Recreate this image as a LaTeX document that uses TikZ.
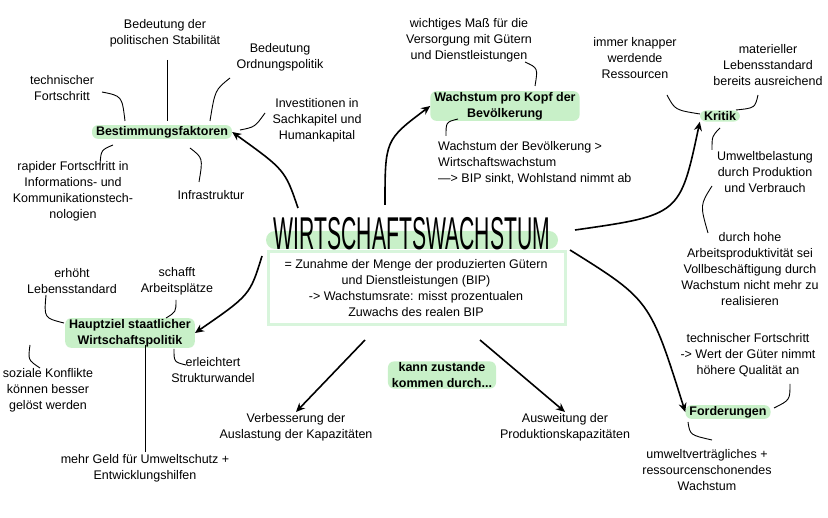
\documentclass[tikz,border=0pt]{standalone}
\usepackage{fontspec}
\setmainfont{Liberation Sans}
\usetikzlibrary{arrows.meta}
\definecolor{hl}{HTML}{C8F0C8}
\definecolor{boxc}{HTML}{D8F5DC}
\tikzset{
 txt/.style={align=center,font=\fontsize{12.5}{16}\selectfont,inner sep=1pt},
 key/.style={txt,font=\fontsize{12.5}{16}\selectfont\bfseries,fill=hl,rounded corners=6pt,inner xsep=4pt},
 ln/.style={line width=0.9pt,black},
 arr/.style={line width=1.6pt,-{Stealth[length=9pt,width=8pt]}},
}
\begin{document}
\begin{tikzpicture}[x=1pt,y=-1pt]
\useasboundingbox (0,0) rectangle (828,518);
% centre
\node[fill=hl,rounded corners=9pt,minimum width=292,minimum height=18] (hbar) at (412,240) {};
\node (title) at (412,234) {\scalebox{0.46}[1]{\fontsize{46}{46}\selectfont WIRTSCHAFTSWACHSTUM}};
\draw[boxc,line width=3pt] (268,252) rectangle (565,325);
\node[txt] (def) at (416,288) {= Zunahme der Menge der produzierten Gütern\\und Dienstleistungen (BIP)\\-> Wachstumsrate: misst prozentualen\\Zuwachs des realen BIP};
% Bestimmungsfaktoren
\node[key] (best) at (162,132) {Bestimmungsfaktoren};
\node[txt] (pol) at (165,33) {Bedeutung der\\politischen Stabilität};
\node[txt] (ord) at (280,57) {Bedeutung\\Ordnungspolitik};
\node[txt] (tech) at (62,88) {technischer\\Fortschritt};
\node[txt] (inv) at (317,120) {Investitionen in\\Sachkapitel und\\Humankapital};
\node[txt] (rap) at (73,191) {rapider Fortschritt in\\Informations- und\\Kommunikationstech-\\nologien};
\node[txt] (inf) at (211,195) {Infrastruktur};
\coordinate (p1) at (167,60); \coordinate (p2) at (167,121);
\draw[ln] (p1) -- (p2);
\coordinate (o1) at (230,78); \coordinate (o2) at (210,121);
\draw[ln] (o1) .. controls (215,90) .. (o2);
\coordinate (t1) at (102,92); \coordinate (t2) at (125,121);
\draw[ln] (t1) .. controls (122,96) .. (t2);
\coordinate (i1) at (265,113); \coordinate (i2) at (240,130);
\draw[ln] (i1) .. controls (255,127) .. (i2);
\coordinate (r1) at (113,145); \coordinate (r2) at (100,165);
\draw[ln] (r1) .. controls (101,150) .. (r2);
\coordinate (f1) at (190,148); \coordinate (f2) at (199,182);
\draw[ln] (f1) .. controls (203,158) .. (f2);
\draw[arr] (298,208) .. controls (285,170) .. (best.east);
% Wachstum pro Kopf
\node[key] (kopf) at (505,106) {Wachstum pro Kopf der\\Bevölkerung};
\node[txt] (wich) at (469,40) {wichtiges Maß für die\\Versorgung mit Gütern\\und Dienstleistungen};
\node[txt,align=left,anchor=west] (bev) at (437,163) {Wachstum der Bevölkerung >\\Wirtschaftswachstum\\—> BIP sinkt, Wohlstand nimmt ab};
\coordinate (w1) at (525,62); \coordinate (w2) at (535,86);
\draw[ln] (w1) .. controls (538,68) .. (w2);
\coordinate (b1) at (458,119); \coordinate (b2) at (446,136);
\draw[ln] (b1) .. controls (446,122) .. (b2);
\draw[arr] (385,205) .. controls (385,140) .. (kopf.west);
% Kritik
\node[key] (krit) at (720,116) {Kritik};
\node[txt] (knap) at (635,58) {immer knapper\\werdende\\Ressourcen};
\node[txt] (mat) at (768,65) {materieller\\Lebensstandard\\bereits ausreichend};
\node[txt] (umw) at (765,172) {Umweltbelastung\\durch Produktion\\und Verbrauch};
\node[txt] (arb) at (750,269) {durch hohe\\Arbeitsproduktivität sei\\Vollbeschäftigung durch\\Wachstum nicht mehr zu\\realisieren};
\coordinate (k1) at (667,95); \coordinate (k2) at (700,114);
\draw[ln] (k1) .. controls (675,110) .. (k2);
\coordinate (m1) at (758,95); \coordinate (m2) at (736,110);
\draw[ln] (m1) .. controls (755,108) .. (m2);
\coordinate (u1) at (720,128); \coordinate (u2) at (712,150);
\draw[ln] (u1) .. controls (712,136) .. (u2);
\coordinate (a1) at (712,186); \coordinate (a2) at (708,233);
\draw[ln] (a1) .. controls (700,205) .. (a2);
\draw[arr] (575,230) .. controls (680,215) .. (krit.south west);
% Hauptziel
\node[key] (haupt) at (130,333) {Hauptziel staatlicher\\Wirtschaftspolitik};
\node[txt] (erh) at (72,281) {erhöht\\Lebensstandard};
\node[txt] (sch) at (177,281) {schafft\\Arbeitsplätze};
\node[txt] (erl) at (213,370) {erleichtert\\Strukturwandel};
\node[txt] (soz) at (48,390) {soziale Konflikte\\können besser\\gelöst werden};
\node[txt] (geld) at (145,468) {mehr Geld für Umweltschutz +\\Entwicklungshilfen};
\coordinate (e1) at (46,295); \coordinate (e2) at (64,323);
\draw[ln] (e1) .. controls (44,318) .. (e2);
\coordinate (s1) at (176,300); \coordinate (s2) at (166,318);
\draw[ln] (s1) .. controls (176,312) .. (s2);
\coordinate (l1) at (174,349); \coordinate (l2) at (186,365);
\draw[ln] (l1) .. controls (174,362) .. (l2);
\coordinate (z1) at (30,345); \coordinate (z2) at (40,368);
\draw[ln] (z1) .. controls (28,360) .. (z2);
\coordinate (g1) at (145,345); \coordinate (g2) at (145,452);
\draw[ln] (g1) -- (g2);
\draw[arr] (262,256) .. controls (250,295) .. (haupt.east);
% kann zustande
\node[key] (kann) at (442,375) {kann zustande\\kommen durch...};
\node[txt] (verb) at (296,427) {Verbesserung der\\Auslastung der Kapazitäten};
\node[txt] (ausw) at (565,427) {Ausweitung der\\Produktionskapazitäten};
\draw[arr] (365,340) -- (verb.north);
\draw[arr] (480,340) -- (ausw.north);
% Forderungen
\node[key] (ford) at (728,412) {Forderungen};
\node[txt] (tf) at (748,355) {technischer Fortschritt\\-> Wert der Güter nimmt\\höhere Qualität an};
\node[txt] (uv) at (707,470) {umweltverträgliches +\\ressourcenschonendes\\Wachstum};
\coordinate (c1) at (790,384); \coordinate (c2) at (774,408);
\draw[ln] (c1) .. controls (790,400) .. (c2);
\coordinate (d1) at (688,422); \coordinate (d2) at (712,440);
\draw[ln] (d1) .. controls (690,435) .. (d2);
\draw[arr] (570,250) .. controls (650,300) .. (ford.west);
\end{tikzpicture}
\end{document}
